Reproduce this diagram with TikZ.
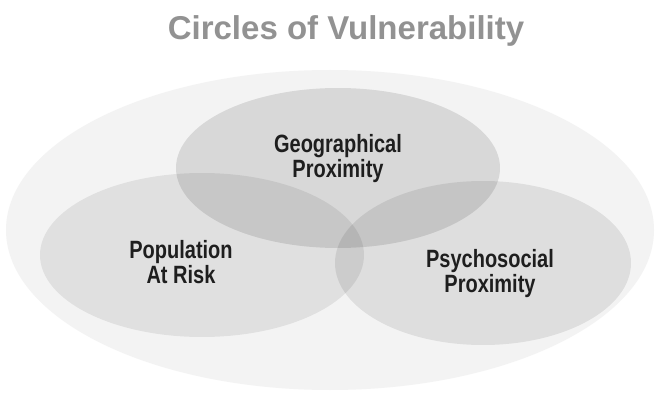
\documentclass[tikz,border=0pt]{standalone}
\usepackage{fontspec}
\setmainfont{Liberation Sans}
\newfontfamily\condfont[FakeStretch=0.8]{Liberation Sans}
\definecolor{titlegray}{HTML}{929292}
\definecolor{labelink}{HTML}{1E1E1E}
\definecolor{outerfill}{HTML}{F3F3F3}
\tikzset{
  outerring/.style={fill=outerfill, draw=none},
  vcircle/.style={fill=black, draw=none},
  titletext/.style={font=\fontsize{33}{36}\selectfont\bfseries, text=titlegray, inner sep=0pt},
  vlabel/.style={font=\condfont\fontsize{25}{25}\selectfont\bfseries, text=labelink, align=center, inner sep=0pt}
}
\begin{document}
\begin{tikzpicture}[x=1pt,y=-1pt]
\useasboundingbox (0,0) rectangle (657,396);
\fill[white] (0,0) rectangle (657,396);
% faint outer field
\path[outerring] (330,230) ellipse [x radius=324, y radius=160];
% the three circles
\path[vcircle, fill opacity=0.11] (338,168) ellipse [x radius=162, y radius=80];
\path[vcircle, fill opacity=0.075] (202,255) ellipse [x radius=162, y radius=82];
\path[vcircle, fill opacity=0.085] (483,263) ellipse [x radius=148, y radius=82];
% title
\node[titletext, anchor=base] (title) at (346,40) {Circles of Vulnerability};
% labels
\node[vlabel] (geo) at (338,158.1) {Geographical\\Proximity};
\node[vlabel] (pop) at (181,264.1) {Population\\At Risk\vphantom{y}};
\node[vlabel] (psy) at (490,273.1) {Psychosocial\\Proximity};
\end{tikzpicture}
\end{document}
